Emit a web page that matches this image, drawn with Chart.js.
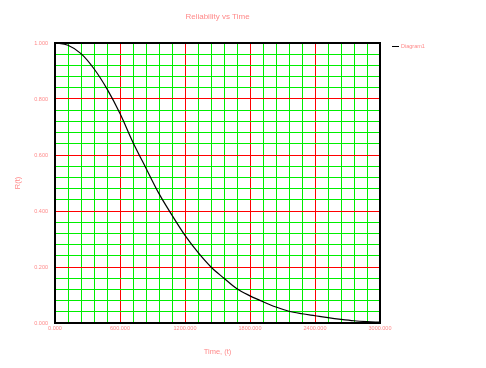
<!DOCTYPE html>
<html>
<head>
<meta charset="utf-8">
<script src="https://cdn.jsdelivr.net/npm/chart.js@4"></script>
<style>
  html, body { margin: 0; padding: 0; background: #fff; }
  canvas { display: block; }
</style>
</head>
<body>
<canvas id="reliabilityChart" width="486" height="368"></canvas>
<script>
// Chart values
const timeValues = [0, 120, 240, 360, 480, 600, 720, 840, 960, 1080, 1200, 1320, 1440,
  1560, 1680, 1800, 1920, 2040, 2160, 2280, 2400, 2520, 2640, 2760, 2880, 3000];
const reliabilityValues = [1.0, 0.992, 0.962, 0.908, 0.836, 0.748, 0.645, 0.553, 0.462, 0.385,
  0.313, 0.252, 0.200, 0.160, 0.122, 0.097, 0.076, 0.057, 0.042, 0.033, 0.026, 0.019, 0.013,
  0.008, 0.005, 0.003];
const xTickLabels = ["0.000", "600.000", "1200.000", "1800.000", "2400.000", "3000.000"];
const yTickLabels = ["0.000", "0.200", "0.400", "0.600", "0.800", "1.000"];
const seriesName = "Diagram1";

const TEXT_COLOR = "#ff8a8a";
const GREEN = "#00ee00";
const RED = "#ff0000";

// Border round the plot and a small legend at the top right
const framePlugin = {
  id: "frame",
  afterDatasetsDraw: (chart) => {
    const { ctx, chartArea } = chart;
    ctx.save();
    ctx.strokeStyle = "#000";
    ctx.lineWidth = 2;
    ctx.strokeRect(chartArea.left, chartArea.top,
      chartArea.right - chartArea.left, chartArea.bottom - chartArea.top);
    ctx.restore();
  },
  afterDraw: (chart) => {
    const { ctx, chartArea } = chart;
    const lx = chartArea.right + 12;
    const ly = chartArea.top + 3.5;
    ctx.save();
    ctx.strokeStyle = "#000";
    ctx.lineWidth = 1;
    ctx.beginPath();
    ctx.moveTo(lx, ly);
    ctx.lineTo(lx + 7, ly);
    ctx.stroke();
    ctx.fillStyle = TEXT_COLOR;
    ctx.font = "5.5px 'Liberation Sans'";
    ctx.textBaseline = "middle";
    ctx.fillText(chart.data.datasets[0].label, lx + 9, ly);
    ctx.restore();
  },
};

const ctx = document.getElementById("reliabilityChart").getContext("2d");
new Chart(ctx, {
  type: "line",
  data: {
    datasets: [
      {
        label: seriesName,
        data: timeValues.map((t, i) => ({ x: t, y: reliabilityValues[i] })),
        borderColor: "#000",
        borderWidth: 1.2,
        pointRadius: 0,
        fill: false,
        cubicInterpolationMode: "monotone",
      },
    ],
  },
  options: {
    responsive: false,
    devicePixelRatio: 1,
    animation: false,
    layout: { padding: { left: 0, right: 106, top: 0, bottom: 0 } },
    plugins: {
      legend: { display: false },
      tooltip: { enabled: false },
      title: {
        display: true,
        text: "Reliability vs Time",
        color: TEXT_COLOR,
        fullSize: false,
        font: { family: "'Liberation Sans'", size: 8, weight: "normal" },
        padding: { top: 12, bottom: 21.4 },
      },
    },
    scales: {
      x: {
        type: "linear",
        min: 0,
        max: 3000,
        afterFit: (scale) => {
          scale.height = 45;
          scale.paddingLeft = 0;
          scale.paddingRight = 0;
        },
        ticks: {
          stepSize: 120,
          autoSkip: false,
          maxRotation: 0,
          padding: 2,
          color: TEXT_COLOR,
          font: { family: "'Liberation Sans'", size: 5.5 },
          callback: (value) => {
            const i = Math.round(value / 120);
            return i % 5 === 0 ? xTickLabels[i / 5] : "";
          },
        },
        grid: {
          drawTicks: false,
          lineWidth: 1,
          color: (c) => (Math.round(c.tick.value / 120) % 5 === 0 ? RED : GREEN),
        },
        border: { display: false },
        title: {
          display: true,
          text: "Time, (t)",
          color: TEXT_COLOR,
          font: { family: "'Liberation Sans'", size: 7.5 },
          padding: { top: 0, bottom: 11.5 },
        },
      },
      y: {
        min: 0,
        max: 1,
        afterFit: (scale) => {
          scale.width = 55;
          scale.paddingTop = 0;
          scale.paddingBottom = 0;
        },
        ticks: {
          stepSize: 0.04,
          autoSkip: false,
          padding: 7,
          color: TEXT_COLOR,
          font: { family: "'Liberation Sans'", size: 5.5 },
          callback: (value) => {
            const i = Math.round(value / 0.04);
            return i % 5 === 0 ? yTickLabels[i / 5] : "";
          },
        },
        grid: {
          drawTicks: false,
          lineWidth: 1,
          color: (c) => (Math.round(c.tick.value / 0.04) % 5 === 0 ? RED : GREEN),
        },
        border: { display: false },
        title: {
          display: true,
          text: "R(t)",
          color: TEXT_COLOR,
          font: { family: "'Liberation Sans'", size: 7.5 },
          padding: { top: 13, bottom: 0 },
        },
      },
    },
  },
  plugins: [framePlugin],
});
</script>
</body>
</html>
